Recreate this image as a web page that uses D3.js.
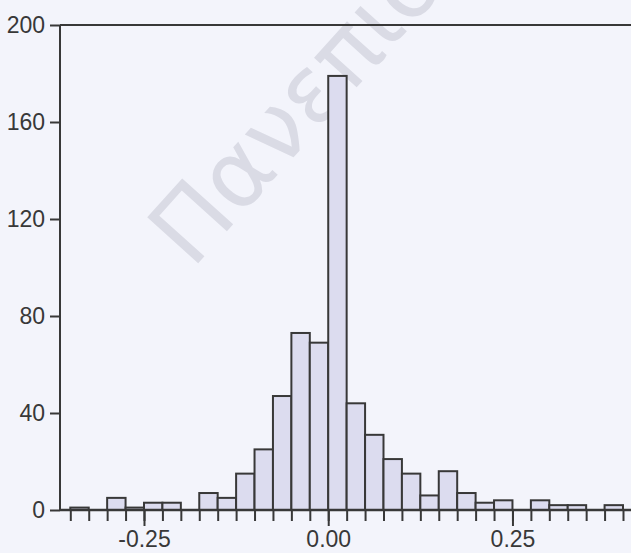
<!DOCTYPE html>
<html>
<head>
<meta charset="utf-8">
<script src="https://cdn.jsdelivr.net/npm/d3@7"></script>
<style>
  html, body { margin: 0; padding: 0; background: #f3f4fb; }
  svg { display: block; }
</style>
</head>
<body>
<svg id="chart" width="631" height="553"></svg>
<script>
// ---- data ----
const binStart = [-0.35, -0.325, -0.3, -0.275, -0.25, -0.225, -0.2, -0.175, -0.15, -0.125,
                  -0.1, -0.075, -0.05, -0.025, 0, 0.025, 0.05, 0.075, 0.1, 0.125,
                  0.15, 0.175, 0.2, 0.225, 0.25, 0.275, 0.3, 0.325, 0.35, 0.375];
const binWidth = 0.025;
const counts = [1, 0, 5, 1, 3, 3, 0, 7, 5, 15,
                25, 47, 73, 69, 179, 44, 31, 21, 15, 6,
                16, 7, 3, 4, 0, 4, 2, 2, 0, 2];
const yTicks = [0, 40, 80, 120, 160, 200];
const xMajorTicks = [-0.25, 0, 0.25];
const watermark = "Πανεπιστήμιο";

// ---- layout ----
const W = 631, H = 553;
const mLeft = 60, mTop = 25, mBottom = 510;
const svg = d3.select("#chart");
const font = "'Liberation Sans', Arial, sans-serif";
const ink = "#383838";

svg.append("rect").attr("width", W).attr("height", H).attr("fill", "#f3f4fb");

// watermark (cut off by the top edge, as in the source image)
svg.append("text")
  .attr("transform", "translate(192,270) rotate(-48)")
  .attr("font-family", "'DejaVu Sans', sans-serif")
  .attr("font-size", 94)
  .attr("fill", "#dadbe5")
  .text(watermark);

const x = d3.scaleLinear().domain([-0.35, 0.4]).range([70.3, 623]);
const y = d3.scaleLinear().domain([0, 200]).range([mBottom, mTop]);

// bars
const bins = binStart.map((s, i) => ({x0: s, x1: s + binWidth, n: counts[i]})).filter(d => d.n > 0);
svg.append("g").selectAll("rect").data(bins).join("rect")
  .attr("x", d => x(d.x0))
  .attr("y", d => y(d.n))
  .attr("width", d => x(d.x1) - x(d.x0))
  .attr("height", d => y(0) - y(d.n))
  .attr("fill", "#dcdcef")
  .attr("stroke", ink)
  .attr("stroke-width", 2);

// frame lines
svg.append("line").attr("x1", mLeft).attr("x2", W).attr("y1", mTop).attr("y2", mTop)
  .attr("stroke", ink).attr("stroke-width", 2);
svg.append("line").attr("x1", mLeft).attr("x2", mLeft).attr("y1", mTop).attr("y2", mBottom)
  .attr("stroke", ink).attr("stroke-width", 2);
svg.append("line").attr("x1", mLeft).attr("x2", W).attr("y1", mBottom).attr("y2", mBottom)
  .attr("stroke", ink).attr("stroke-width", 2.5);

// y axis
const yAxis = svg.append("g").attr("transform", `translate(${mLeft},0)`)
  .call(d3.axisLeft(y).tickValues(yTicks).tickSize(10).tickPadding(5).tickFormat(d3.format("d")));
yAxis.select(".domain").remove();
yAxis.selectAll("line").attr("stroke", ink).attr("stroke-width", 2);
yAxis.selectAll("text").attr("font-family", font).attr("font-size", 23).attr("fill", ink);

// x minor ticks at bin edges
const edges = binStart.concat([binStart[binStart.length - 1] + binWidth]);
const xMinor = svg.append("g").attr("transform", `translate(0,${mBottom})`)
  .call(d3.axisBottom(x).tickValues(edges).tickSize(11).tickFormat(""));
xMinor.select(".domain").remove();
xMinor.selectAll("line").attr("stroke", ink).attr("stroke-width", 2);

// x major ticks with labels (plain hyphen-minus, as in the source)
const fmt = d3.format(".2f");
const xMajor = svg.append("g").attr("transform", `translate(0,${mBottom})`)
  .call(d3.axisBottom(x).tickValues(xMajorTicks).tickSize(16)
    .tickFormat(d => fmt(d).replace("\u2212", "-")));
xMajor.select(".domain").remove();
xMajor.selectAll("line").attr("stroke", ink).attr("stroke-width", 2);
xMajor.selectAll("text").attr("font-family", font).attr("font-size", 23).attr("fill", ink)
  .attr("y", 21).attr("dy", "0.71em");
</script>
</body>
</html>
